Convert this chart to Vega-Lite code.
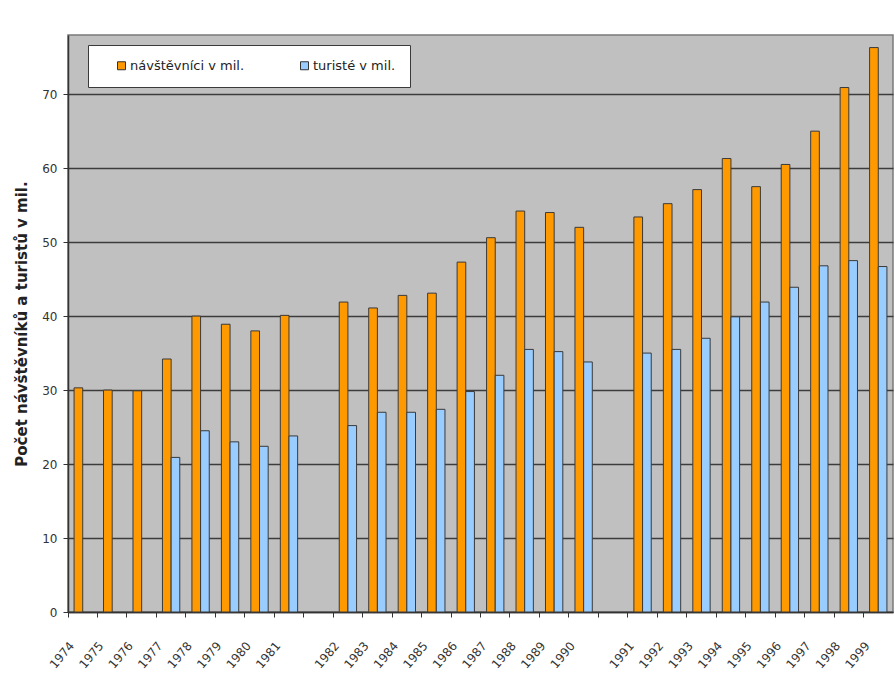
{
  "$schema": "https://vega.github.io/schema/vega-lite/v6.json",
  "autosize": {"type": "none"},
  "width": 825,
  "height": 577,
  "padding": {"left": 68, "top": 35, "right": 2, "bottom": 72},
  "background": "white",
  "config": {
    "font": "DejaVu Sans",
    "view": {"fill": "#C0C0C0", "stroke": "#7a7a7a", "strokeWidth": 1.5}
  },
  "data": {
    "values": [
      {"rok": "1974", "rada": "návštěvníci v mil.", "hodnota": 30.3},
      {"rok": "1975", "rada": "návštěvníci v mil.", "hodnota": 30.0},
      {"rok": "1976", "rada": "návštěvníci v mil.", "hodnota": 29.9},
      {"rok": "1977", "rada": "návštěvníci v mil.", "hodnota": 34.2},
      {"rok": "1978", "rada": "návštěvníci v mil.", "hodnota": 40.0},
      {"rok": "1979", "rada": "návštěvníci v mil.", "hodnota": 38.9},
      {"rok": "1980", "rada": "návštěvníci v mil.", "hodnota": 38.0},
      {"rok": "1981", "rada": "návštěvníci v mil.", "hodnota": 40.1},
      {"rok": "1982", "rada": "návštěvníci v mil.", "hodnota": 41.9},
      {"rok": "1983", "rada": "návštěvníci v mil.", "hodnota": 41.1},
      {"rok": "1984", "rada": "návštěvníci v mil.", "hodnota": 42.8},
      {"rok": "1985", "rada": "návštěvníci v mil.", "hodnota": 43.1},
      {"rok": "1986", "rada": "návštěvníci v mil.", "hodnota": 47.3},
      {"rok": "1987", "rada": "návštěvníci v mil.", "hodnota": 50.6},
      {"rok": "1988", "rada": "návštěvníci v mil.", "hodnota": 54.2},
      {"rok": "1989", "rada": "návštěvníci v mil.", "hodnota": 54.0},
      {"rok": "1990", "rada": "návštěvníci v mil.", "hodnota": 52.0},
      {"rok": "1991", "rada": "návštěvníci v mil.", "hodnota": 53.4},
      {"rok": "1992", "rada": "návštěvníci v mil.", "hodnota": 55.2},
      {"rok": "1993", "rada": "návštěvníci v mil.", "hodnota": 57.1},
      {"rok": "1994", "rada": "návštěvníci v mil.", "hodnota": 61.3},
      {"rok": "1995", "rada": "návštěvníci v mil.", "hodnota": 57.5},
      {"rok": "1996", "rada": "návštěvníci v mil.", "hodnota": 60.5},
      {"rok": "1997", "rada": "návštěvníci v mil.", "hodnota": 65.0},
      {"rok": "1998", "rada": "návštěvníci v mil.", "hodnota": 70.9},
      {"rok": "1999", "rada": "návštěvníci v mil.", "hodnota": 76.3},
      {"rok": "1977", "rada": "turisté v mil.", "hodnota": 20.9},
      {"rok": "1978", "rada": "turisté v mil.", "hodnota": 24.5},
      {"rok": "1979", "rada": "turisté v mil.", "hodnota": 23.0},
      {"rok": "1980", "rada": "turisté v mil.", "hodnota": 22.4},
      {"rok": "1981", "rada": "turisté v mil.", "hodnota": 23.8},
      {"rok": "1982", "rada": "turisté v mil.", "hodnota": 25.2},
      {"rok": "1983", "rada": "turisté v mil.", "hodnota": 27.0},
      {"rok": "1984", "rada": "turisté v mil.", "hodnota": 27.0},
      {"rok": "1985", "rada": "turisté v mil.", "hodnota": 27.4},
      {"rok": "1986", "rada": "turisté v mil.", "hodnota": 29.8},
      {"rok": "1987", "rada": "turisté v mil.", "hodnota": 32.0},
      {"rok": "1988", "rada": "turisté v mil.", "hodnota": 35.5},
      {"rok": "1989", "rada": "turisté v mil.", "hodnota": 35.2},
      {"rok": "1990", "rada": "turisté v mil.", "hodnota": 33.8},
      {"rok": "1991", "rada": "turisté v mil.", "hodnota": 35.0},
      {"rok": "1992", "rada": "turisté v mil.", "hodnota": 35.5},
      {"rok": "1993", "rada": "turisté v mil.", "hodnota": 37.0},
      {"rok": "1994", "rada": "turisté v mil.", "hodnota": 39.9},
      {"rok": "1995", "rada": "turisté v mil.", "hodnota": 41.9},
      {"rok": "1996", "rada": "turisté v mil.", "hodnota": 43.9},
      {"rok": "1997", "rada": "turisté v mil.", "hodnota": 46.8},
      {"rok": "1998", "rada": "turisté v mil.", "hodnota": 47.5},
      {"rok": "1999", "rada": "turisté v mil.", "hodnota": 46.7}
    ]
  },
  "mark": {"type": "bar", "stroke": "#3a3a3a", "strokeWidth": 1},
  "encoding": {
    "x": {
      "field": "rok",
      "type": "nominal",
      "scale": {
        "domain": ["1974","1975","1976","1977","1978","1979","1980","1981","g1","1982","1983","1984","1985","1986","1987","1988","1989","1990","g2","1991","1992","1993","1994","1995","1996","1997","1998","1999"],
        "paddingInner": 0,
        "paddingOuter": 0
      },
      "axis": {
        "title": null,
        "bandPosition": 0,
        "labelExpr": "indexof(datum.label, 'g') == 0 ? '' : datum.label",
        "labelAngle": -50,
        "labelAlign": "right",
        "labelBaseline": "middle",
        "labelOffset": -11,
        "labelPadding": 26,
        "labelFont": "DejaVu Sans",
        "labelFontSize": 12,
        "labelColor": "#333333",
        "tickColor": "#333333",
        "tickSize": 5,
        "domainColor": "#333333",
        "domainWidth": 1.5,
        "grid": false
      }
    },
    "xOffset": {
      "field": "rada",
      "type": "nominal",
      "scale": {"paddingInner": 0, "paddingOuter": 0.7}
    },
    "y": {
      "field": "hodnota",
      "type": "quantitative",
      "scale": {"domain": [0, 78], "nice": false},
      "axis": {
        "title": "Počet návštěvníků a turistů v mil.",
        "titleFont": "DejaVu Sans",
        "titleFontSize": 15,
        "titleFontWeight": "bold",
        "titleColor": "#222222",
        "titlePadding": 12,
        "values": [0, 10, 20, 30, 40, 50, 60, 70],
        "labelFont": "DejaVu Sans",
        "labelFontSize": 12,
        "labelColor": "#333333",
        "labelPadding": 6,
        "tickColor": "#333333",
        "tickSize": 5,
        "domainColor": "#333333",
        "domainWidth": 1.5,
        "grid": true,
        "gridColor": "#3c3c3c",
        "gridWidth": 1.3
      }
    },
    "color": {
      "field": "rada",
      "type": "nominal",
      "scale": {
        "domain": ["návštěvníci v mil.", "turisté v mil."],
        "range": ["#FF9900", "#99CCFF"]
      },
      "legend": {
        "title": null,
        "orient": "none",
        "legendX": 20,
        "legendY": 10,
        "direction": "horizontal",
        "fillColor": "white",
        "strokeColor": "#3a3a3a",
        "padding": 14,
        "symbolOffset": 13,
        "columnPadding": 40,
        "symbolType": "square",
        "symbolSize": 64,
        "symbolStrokeColor": "#333333",
        "symbolStrokeWidth": 1,
        "labelFont": "DejaVu Sans",
        "labelFontSize": 13,
        "labelColor": "#222222",
        "labelOffset": 2
      }
    }
  }
}
